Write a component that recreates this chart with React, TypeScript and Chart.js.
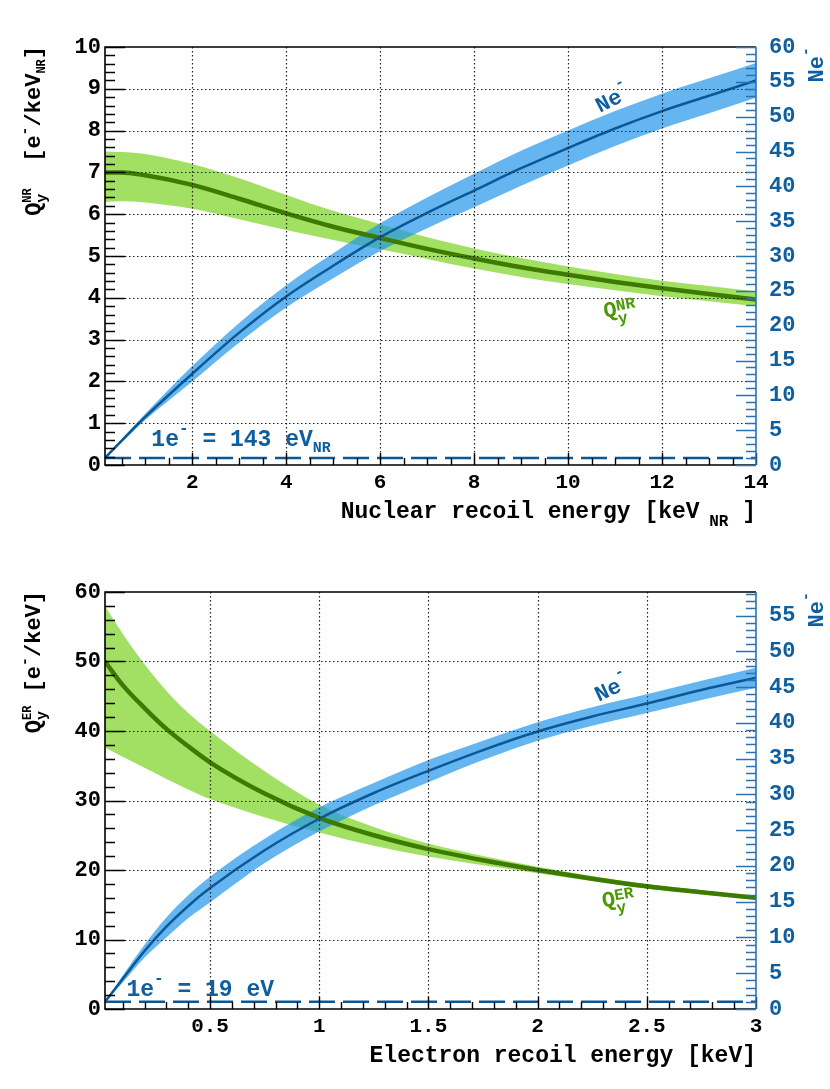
import { useEffect, useRef } from 'react'
import { Chart, registerables, Plugin } from 'chart.js'

Chart.register(...registerables)

const MONO = '"Liberation Mono", "DejaVu Sans Mono", monospace'

// ---- nuclear recoil panel (keV_NR) ----
const nrEnergy = [0.143, 0.5, 1, 2, 3, 4, 5, 6, 7, 8, 9, 10, 11, 12, 13, 14]
const nrQy = [7.0, 7.0, 6.93, 6.7, 6.37, 6.02, 5.7, 5.43, 5.17, 4.94, 4.73, 4.55, 4.38, 4.23, 4.09, 3.96]
const nrQyHigh = [7.5, 7.49, 7.44, 7.2, 6.86, 6.46, 6.08, 5.76, 5.45, 5.18, 4.95, 4.75, 4.57, 4.41, 4.28, 4.15]
const nrQyLow = [6.3, 6.31, 6.28, 6.13, 5.88, 5.62, 5.38, 5.16, 4.93, 4.7, 4.5, 4.33, 4.18, 4.04, 3.92, 3.8]
const nrNe = [1.0, 3.5, 6.9, 13.1, 19.0, 24.2, 28.6, 32.7, 36.2, 39.4, 42.6, 45.5, 48.3, 50.8, 53.0, 55.2]
const nrNeHigh = [1.05, 3.75, 7.35, 14.2, 20.4, 25.8, 30.4, 34.7, 38.4, 41.8, 45.1, 48.0, 50.8, 53.3, 55.5, 57.7]
const nrNeLow = [0.95, 3.25, 6.45, 12.0, 17.6, 22.6, 26.8, 30.7, 34.0, 37.0, 40.1, 43.0, 45.8, 48.3, 50.5, 52.7]
const nrXTicks = [2, 4, 6, 8, 10, 12, 14]
const nrQyTicks = [0, 1, 2, 3, 4, 5, 6, 7, 8, 9, 10]
const nrNeTicks = [0, 5, 10, 15, 20, 25, 30, 35, 40, 45, 50, 55, 60]

// ---- electron recoil panel (keV) ----
const erEnergy = [0.019, 0.1, 0.2, 0.3, 0.4, 0.5, 0.75, 1, 1.25, 1.5, 1.75, 2, 2.25, 2.5, 2.75, 3]
const erQy = [50.0, 46.6, 43.3, 40.3, 37.8, 35.5, 31.0, 27.5, 25.0, 23.0, 21.4, 20.0, 18.75, 17.65, 16.8, 16.0]
const erQyHigh = [58.0, 54.0, 49.6, 45.8, 42.6, 40.0, 34.2, 29.4, 26.2, 23.8, 22.0, 20.45, 19.15, 18.0, 17.1, 16.3]
const erQyLow = [37.6, 36.3, 34.7, 33.1, 31.6, 30.2, 27.6, 25.4, 23.5, 21.95, 20.7, 19.55, 18.4, 17.3, 16.5, 15.7]
const erNe = [1.0, 4.2, 8.1, 11.5, 14.4, 16.9, 22.2, 26.6, 30.2, 33.3, 36.2, 38.8, 40.9, 42.7, 44.6, 46.3]
const erNeHigh = [1.05, 4.7, 9.0, 12.8, 15.9, 18.5, 23.8, 28.2, 31.6, 34.8, 37.5, 40.1, 42.2, 44.0, 45.9, 47.7]
const erNeLow = [0.95, 3.7, 7.2, 10.0, 12.7, 14.9, 20.4, 24.8, 28.5, 31.7, 34.8, 37.5, 39.6, 41.4, 43.2, 44.9]
const erXTicks = [0.5, 1, 1.5, 2, 2.5, 3]
const erQyTicks = [0, 10, 20, 30, 40, 50, 60]
const erNeTicks = [0, 5, 10, 15, 20, 25, 30, 35, 40, 45, 50, 55]

// single ionisation electron threshold
const thresholdNe = 1

const GREEN_BAND = '#a1e063'
const GREEN_LINE = '#3d7a00'
const GREEN_TEXT = '#4a9a04'
const BLUE_BAND = 'rgba(34, 149, 234, 0.7)'
const BLUE_LINE = '#0b5896'
const BLUE_TEXT = '#0f5fa0'
const BLUE_AXIS = '#2b72b5'

type Part = { t: string; size: number; dy?: number; skip?: boolean }
type Note = { parts: Part[]; x: number; y: number; angle: number; color: string }

const font = (size: number) => `bold ${size}px ${MONO}`

function drawRich(
  ctx: CanvasRenderingContext2D,
  parts: Part[],
  x: number,
  y: number,
  align: 'left' | 'right',
  color: string,
  angle: number
) {
  ctx.save()
  ctx.translate(x, y)
  ctx.rotate((angle * Math.PI) / 180)
  ctx.fillStyle = color
  ctx.textAlign = 'left'
  ctx.textBaseline = 'alphabetic'
  const widths = parts.map((p) => {
    ctx.font = font(p.size)
    return p.skip ? 0 : ctx.measureText(p.t).width
  })
  const total = widths.reduce((a, b) => a + b, 0)
  let cx = align === 'right' ? -total : 0
  parts.forEach((p, i) => {
    ctx.font = font(p.size)
    ctx.fillText(p.t, cx, p.dy ?? 0)
    cx += widths[i]
  })
  ctx.restore()
}

function steps(min: number, max: number, step: number) {
  const out: number[] = []
  for (let k = Math.ceil(min / step - 1e-9); k * step <= max + 1e-9; k++) out.push(k * step)
  return out
}

interface PanelProps {
  height: number
  energy: number[]
  qy: number[]
  qyHigh: number[]
  qyLow: number[]
  ne: number[]
  neHigh: number[]
  neLow: number[]
  xMin: number
  xMax: number
  xTicks: number[]
  xMinor: number
  qyMax: number
  qyTicks: number[]
  qyMinor: number
  neMax: number
  neTicks: number[]
  neMinor: number
  xTitle: Part[]
  yTitle: Part[]
  notes: Note[]
}

function Panel(props: PanelProps) {
  const canvasRef = useRef<HTMLCanvasElement>(null)

  useEffect(() => {
    if (!canvasRef.current) return
    const p = props
    const pts = (ys: number[]) => p.energy.map((x, i) => ({ x, y: ys[i] }))

    const decor: Plugin = {
      id: 'decor',
      afterDatasetsDraw(chart) {
        const ctx = chart.ctx
        const { left, right, top, bottom } = chart.chartArea
        const xs = chart.scales.x
        const ys = chart.scales.y
        const y2 = chart.scales.y2
        ctx.save()

        // dotted grid
        ctx.strokeStyle = '#222'
        ctx.lineWidth = 1.2
        ctx.setLineDash([1.5, 2.5])
        p.xTicks.forEach((v) => {
          const px = Math.round(xs.getPixelForValue(v)) + 0.5
          if (px <= left + 1 || px >= right - 1) return
          ctx.beginPath()
          ctx.moveTo(px, top)
          ctx.lineTo(px, bottom)
          ctx.stroke()
        })
        p.qyTicks.forEach((v) => {
          const py = Math.round(ys.getPixelForValue(v)) + 0.5
          if (py <= top + 1 || py >= bottom - 1) return
          ctx.beginPath()
          ctx.moveTo(left, py)
          ctx.lineTo(right, py)
          ctx.stroke()
        })
        ctx.setLineDash([])

        // frame
        ctx.lineWidth = 1.6
        ctx.strokeStyle = '#000'
        ctx.beginPath()
        ctx.moveTo(right, top)
        ctx.lineTo(left, top)
        ctx.lineTo(left, bottom)
        ctx.lineTo(right, bottom)
        ctx.stroke()

        // inward ticks, black axes
        ctx.lineWidth = 1.4
        ctx.beginPath()
        steps(p.xMin, p.xMax, p.xMinor).forEach((v) => {
          const px = Math.round(xs.getPixelForValue(v)) + 0.5
          const major = p.xTicks.some((t) => Math.abs(t - v) < 1e-6)
          ctx.moveTo(px, bottom)
          ctx.lineTo(px, bottom - (major ? 12 : 7))
        })
        steps(0, p.qyMax, p.qyMinor).forEach((v) => {
          const py = Math.round(ys.getPixelForValue(v)) + 0.5
          const major = p.qyTicks.some((t) => Math.abs(t - v) < 1e-6)
          ctx.moveTo(left, py)
          ctx.lineTo(left + (major ? 20 : 10), py)
        })
        ctx.stroke()

        // right axis in blue
        ctx.strokeStyle = BLUE_AXIS
        ctx.lineWidth = 1.6
        ctx.beginPath()
        ctx.moveTo(right, top)
        ctx.lineTo(right, bottom)
        ctx.stroke()
        ctx.lineWidth = 1.4
        ctx.beginPath()
        steps(0, p.neMax, p.neMinor).forEach((v) => {
          const py = Math.round(y2.getPixelForValue(v)) + 0.5
          const major = p.neTicks.some((t) => Math.abs(t - v) < 1e-6)
          ctx.moveTo(right, py)
          ctx.lineTo(right - (major ? 20 : 10), py)
        })
        ctx.stroke()
        ctx.restore()

        // titles
        drawRich(ctx, p.xTitle, right, bottom + 53, 'right', '#000', 0)
        drawRich(ctx, p.yTitle, 40, top - 1, 'right', '#000', -90)
        drawRich(
          ctx,
          [
            { t: 'Ne', size: 22 },
            { t: '-', size: 15, dy: -13 },
          ],
          823,
          top,
          'right',
          BLUE_TEXT,
          -90
        )

        // annotations placed in data coordinates
        p.notes.forEach((n) => {
          drawRich(ctx, n.parts, xs.getPixelForValue(n.x), ys.getPixelForValue(n.y), 'left', n.color, n.angle)
        })
      },
    }

    const tickFont = { family: MONO, size: 22, weight: 'bold' as const }
    const line = { pointRadius: 0, cubicInterpolationMode: 'monotone' as const }

    const chart = new Chart(canvasRef.current, {
      type: 'line',
      data: {
        datasets: [
          { ...line, data: pts(p.qyHigh), yAxisID: 'y', fill: 1, backgroundColor: GREEN_BAND, borderColor: 'transparent', borderWidth: 0, order: 6 },
          { ...line, data: pts(p.qyLow), yAxisID: 'y', fill: false, borderColor: 'transparent', borderWidth: 0, order: 5 },
          { ...line, data: pts(p.neHigh), yAxisID: 'y2', fill: 3, backgroundColor: BLUE_BAND, borderColor: 'transparent', borderWidth: 0, order: 4 },
          { ...line, data: pts(p.neLow), yAxisID: 'y2', fill: false, borderColor: 'transparent', borderWidth: 0, order: 3 },
          { ...line, data: pts(p.qy), yAxisID: 'y', fill: false, borderColor: GREEN_LINE, borderWidth: 4.5, order: 2 },
          { ...line, data: pts(p.ne), yAxisID: 'y2', fill: false, borderColor: BLUE_LINE, borderWidth: 2.5, order: 1 },
          {
            pointRadius: 0,
            data: [
              { x: p.xMin, y: thresholdNe },
              { x: p.xMax, y: thresholdNe },
            ],
            yAxisID: 'y2',
            fill: false,
            borderColor: BLUE_LINE,
            borderWidth: 2.5,
            borderDash: [26, 8],
            order: 0,
          },
        ],
      },
      options: {
        responsive: false,
        animation: false,
        events: [],
        layout: { padding: { top: 47, left: 0, right: 0, bottom: 0 } },
        plugins: { legend: { display: false }, tooltip: { enabled: false } },
        scales: {
          x: {
            type: 'linear',
            min: p.xMin,
            max: p.xMax,
            bounds: 'data',
            afterFit: (s) => {
              s.height = 80
            },
            afterBuildTicks: (s) => {
              s.ticks = p.xTicks.map((value) => ({ value }))
            },
            grid: { display: false, drawTicks: false },
            border: { display: false },
            ticks: { font: { ...tickFont, size: 21 }, color: '#000', padding: 5, maxRotation: 0, autoSkip: false, callback: (v) => String(v) },
          },
          y: {
            type: 'linear',
            position: 'left',
            min: 0,
            max: p.qyMax,
            bounds: 'data',
            afterFit: (s) => {
              s.width = 105
            },
            afterBuildTicks: (s) => {
              s.ticks = p.qyTicks.map((value) => ({ value }))
            },
            grid: { display: false, drawTicks: false },
            border: { display: false },
            ticks: { font: tickFont, color: '#000', padding: 4, autoSkip: false, callback: (v) => String(v) },
          },
          y2: {
            type: 'linear',
            position: 'right',
            min: 0,
            max: p.neMax,
            bounds: 'data',
            afterFit: (s) => {
              s.width = 74
            },
            afterBuildTicks: (s) => {
              s.ticks = p.neTicks.map((value) => ({ value }))
            },
            grid: { display: false, drawTicks: false },
            border: { display: false },
            ticks: { font: tickFont, color: BLUE_TEXT, padding: 13, autoSkip: false, callback: (v) => String(v) },
          },
        },
      },
      plugins: [decor],
    })

    return () => {
      chart.destroy()
    }
  }, [])

  return <canvas ref={canvasRef} width={830} height={props.height} style={{ display: 'block', width: 830, height: props.height }} />
}

export default function App() {
  return (
    <div style={{ position: 'absolute', left: 0, top: 0, width: 830, height: 1089, background: '#fff' }}>
      <Panel
        height={545}
        energy={nrEnergy}
        qy={nrQy}
        qyHigh={nrQyHigh}
        qyLow={nrQyLow}
        ne={nrNe}
        neHigh={nrNeHigh}
        neLow={nrNeLow}
        xMin={0.143}
        xMax={14}
        xTicks={nrXTicks}
        xMinor={0.5}
        qyMax={10}
        qyTicks={nrQyTicks}
        qyMinor={0.2}
        neMax={60}
        neTicks={nrNeTicks}
        neMinor={1}
        xTitle={[
          { t: 'Nuclear recoil energy [keV', size: 23 },
          { t: ' NR', size: 16, dy: 8 },
          { t: ' ]', size: 23 },
        ]}
        yTitle={[
          { t: 'Q', size: 22 },
          { t: 'y', size: 15, dy: 6, skip: true },
          { t: 'NR', size: 12, dy: -9 },
          { t: '  [e', size: 22 },
          { t: '-', size: 15, dy: -11 },
          { t: '/keV', size: 22 },
          { t: 'NR', size: 12, dy: 5 },
          { t: ']', size: 22 },
        ]}
        notes={[
          { parts: [{ t: 'Ne', size: 22 }, { t: '-', size: 15, dy: -14 }], x: 10.68, y: 8.42, angle: -27, color: BLUE_TEXT },
          {
            parts: [
              { t: 'Q', size: 22 },
              { t: 'y', size: 16, dy: 8, skip: true },
              { t: 'NR', size: 16, dy: -5 },
            ],
            x: 10.78,
            y: 3.52,
            angle: -10,
            color: GREEN_TEXT,
          },
          {
            parts: [
              { t: '1e', size: 23 },
              { t: '-', size: 16, dy: -13 },
              { t: ' = 143 eV', size: 23 },
              { t: 'NR', size: 15, dy: 6 },
            ],
            x: 1.13,
            y: 0.45,
            angle: 0,
            color: BLUE_TEXT,
          },
        ]}
      />
      <Panel
        height={544}
        energy={erEnergy}
        qy={erQy}
        qyHigh={erQyHigh}
        qyLow={erQyLow}
        ne={erNe}
        neHigh={erNeHigh}
        neLow={erNeLow}
        xMin={0.019}
        xMax={3}
        xTicks={erXTicks}
        xMinor={0.1}
        qyMax={60}
        qyTicks={erQyTicks}
        qyMinor={2}
        neMax={58.3}
        neTicks={erNeTicks}
        neMinor={1}
        xTitle={[{ t: 'Electron recoil energy [keV]', size: 23 }]}
        yTitle={[
          { t: 'Q', size: 22 },
          { t: 'y', size: 15, dy: 6, skip: true },
          { t: 'ER', size: 12, dy: -9 },
          { t: ' [e', size: 22 },
          { t: '-', size: 15, dy: -11 },
          { t: '/keV]', size: 22 },
        ]}
        notes={[
          { parts: [{ t: 'Ne', size: 22 }, { t: '-', size: 15, dy: -14 }], x: 2.28, y: 44.2, angle: -25, color: BLUE_TEXT },
          {
            parts: [
              { t: 'Q', size: 22 },
              { t: 'y', size: 16, dy: 8, skip: true },
              { t: 'ER', size: 16, dy: -5 },
            ],
            x: 2.3,
            y: 14.6,
            angle: -10,
            color: GREEN_TEXT,
          },
          {
            parts: [
              { t: '1e', size: 23 },
              { t: '-', size: 16, dy: -13 },
              { t: ' = 19 eV', size: 23 },
            ],
            x: 0.117,
            y: 1.87,
            angle: 0,
            color: BLUE_TEXT,
          },
        ]}
      />
    </div>
  )
}
